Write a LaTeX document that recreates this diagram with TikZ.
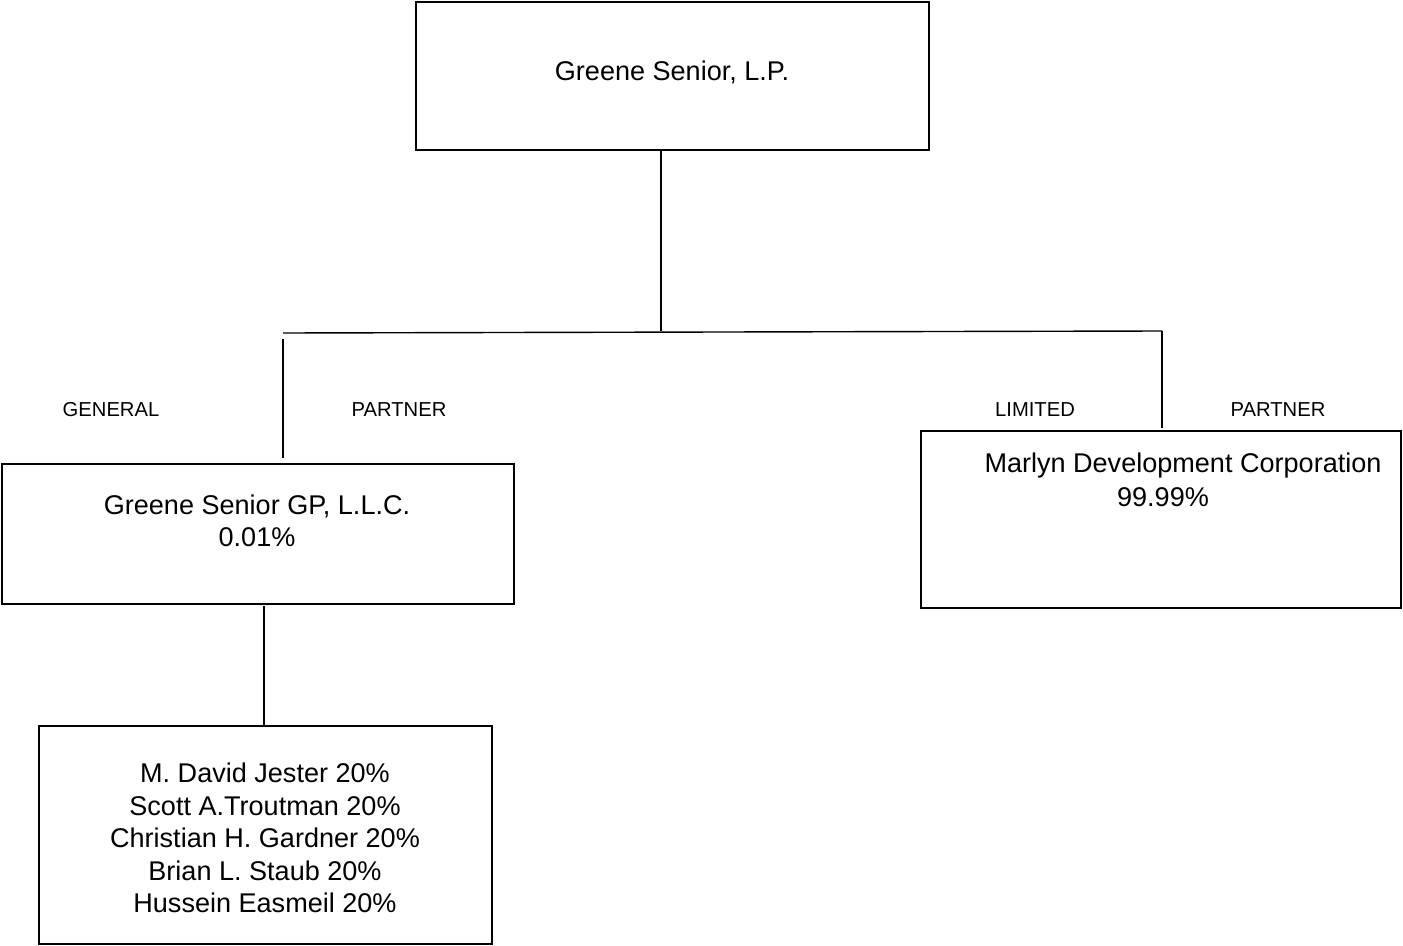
\documentclass[tikz,border=0pt]{standalone}
\usepackage{fontspec}
\setmainfont{Liberation Sans}
\usetikzlibrary{calc}

\begin{document}
\begin{tikzpicture}[x=0.02cm, y=-0.02cm, line width=0.8pt,
    entity/.style={draw, rectangle, inner sep=0pt},
    boxtext/.style={align=center, font=\fontsize{15.4}{18.5}\selectfont},
    role/.style={font=\fontsize{11.5}{13}\selectfont}]
  \useasboundingbox (0,0) rectangle (1403,946);

  % boxes
  \node [entity, minimum width=10.26cm, minimum height=2.96cm] (lp) at (672.5, 76) {};
  \node [entity, minimum width=10.24cm, minimum height=2.8cm] (gp) at (258, 534) {};
  \node [entity, minimum width=9.6cm, minimum height=3.54cm] (lim) at (1161, 519.5) {};
  \node [entity, minimum width=9.06cm, minimum height=4.36cm] (own) at (265.5, 835) {};

  % texts
  \node [boxtext] (lptext) at (672, 72) {Greene Senior, L.P.};
  \node [boxtext] (gptext) at (257, 521) {Greene Senior GP, L.L.C.\\0.01\%};
  \node [boxtext] (limname) at (1183, 465) {Marlyn Development Corporation};
  \node [boxtext] (limshare) at (1163, 497) {99.99\%};
  \node [boxtext] (owntext) at (265, 838) {M. David Jester 20\%\\Scott A.Troutman 20\%\\Christian H. Gardner 20\%\\Brian L. Staub 20\%\\Hussein Easmeil 20\%};

  \node [role] (gen) at (111, 410) {GENERAL};
  \node [role] (genp) at (399, 410) {PARTNER};
  \node [role] (ltd) at (1035, 410) {LIMITED};
  \node [role] (ltdp) at (1278, 410) {PARTNER};

  % lines
  \coordinate (mid) at (661, 331);
  \coordinate (left) at (283, 333);
  \coordinate (right) at (1162, 331);
  \coordinate (gptop) at (283, 339);
  \coordinate (gpend) at (283, 458);
  \coordinate (limtop) at (1162, 428);
  \coordinate (gpbot) at (264, 606);

  \path [draw] (lp.south -| mid) -- (mid);
  \path [draw] (left) -- (right);
  \path [draw] (gptop) -- (gpend);
  \path [draw] (right) -- (limtop);
  \path [draw] (gpbot) -- (own.north -| gpbot);
\end{tikzpicture}
\end{document}
